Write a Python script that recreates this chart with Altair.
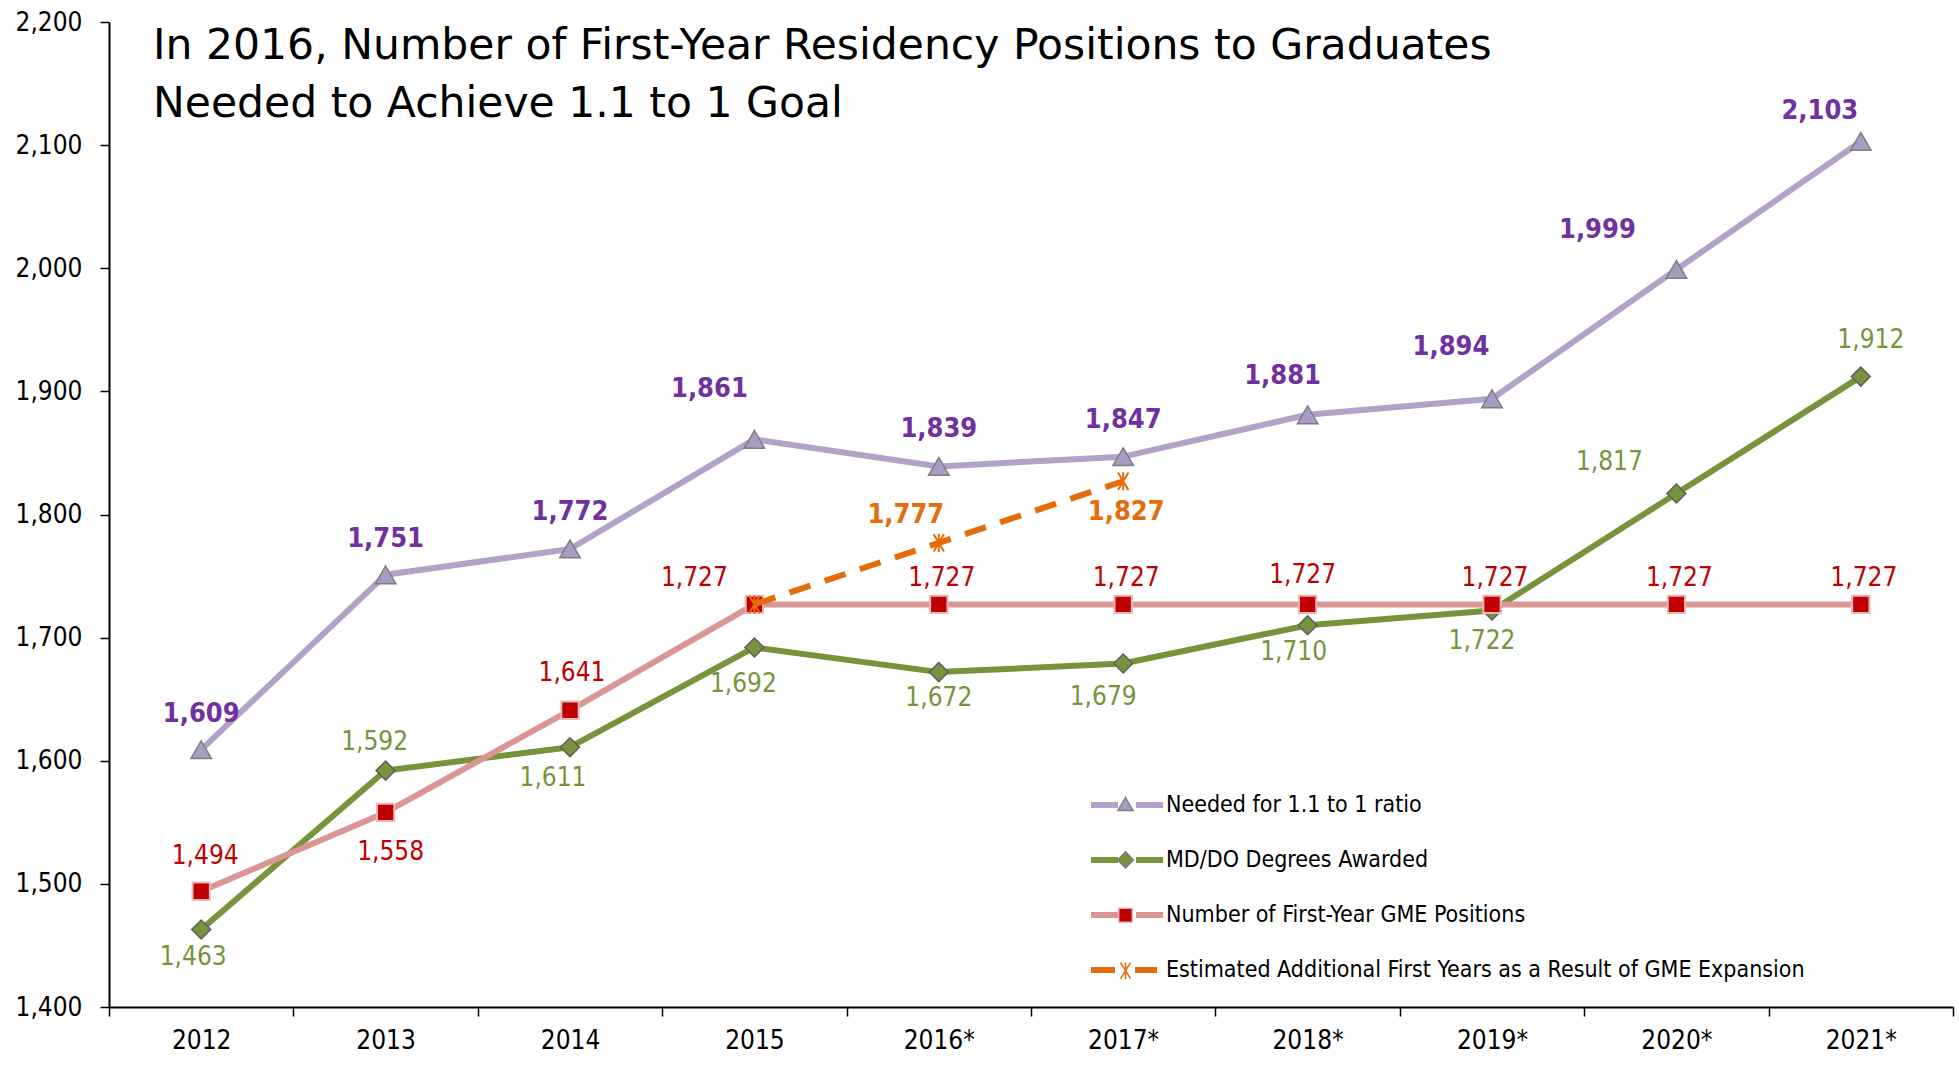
import altair as alt
import pandas as pd

# ---------------- data ----------------
years = ["2012", "2013", "2014", "2015", "2016*", "2017*", "2018*", "2019*", "2020*", "2021*"]
needed = [1609, 1751, 1772, 1861, 1839, 1847, 1881, 1894, 1999, 2103]
degrees = [1463, 1592, 1611, 1692, 1672, 1679, 1710, 1722, 1817, 1912]
positions = [1494, 1558, 1641, 1727, 1727, 1727, 1727, 1727, 1727, 1727]
est_years = ["2015", "2016*", "2017*"]
estimated = [1727, 1777, 1827]

S_NEED = "Needed for 1.1 to 1 ratio"
S_DEG = "MD/DO Degrees Awarded"
S_POS = "Number of First-Year GME Positions"
S_EST = "Estimated Additional First Years as a Result of GME Expansion"
series_names = [S_NEED, S_DEG, S_POS, S_EST]

title_lines = [
    "In 2016, Number of First-Year Residency Positions to Graduates",
    "Needed to Achieve 1.1 to 1 Goal",
]
y_ticks = [1400, 1500, 1600, 1700, 1800, 1900, 2000, 2100, 2200]

rows = []
for s, ys, vs in [(S_NEED, years, needed), (S_DEG, years, degrees),
                  (S_POS, years, positions), (S_EST, est_years, estimated)]:
    for yr, v in zip(ys, vs):
        rows.append({"year": yr, "series": s, "value": v})
df = pd.DataFrame(rows)

# ---------------- style ----------------
FONT = "DejaVu Sans Condensed, DejaVu Sans"
TITLE_FONT = "DejaVu Sans"
C_NEED_LINE, C_NEED_FILL, C_NEED_TXT = "#B3A2C7", "#A99CC4", "#7030A0"
C_DEG = "#77933C"
C_POS_LINE, C_POS_FILL, C_POS_TXT = "#DA9694", "#C00000", "#C00000"
C_EST = "#E46C0A"
GRAY = "#7F7F7F"
ASTERISK = "M-0.6,-1L0.6,1M0.6,-1L-0.6,1M0,-1.05V1.05"

base = alt.Chart(df)
X = alt.X("year:N", sort=years, title=None,
          scale=alt.Scale(type="band", paddingInner=0, paddingOuter=0),
          axis=alt.Axis(tickBand="extent", labelAngle=0, labelFontSize=26, labelFont=FONT,
                        labelColor="black", tickSize=9, tickWidth=1.5, tickColor="black",
                        domainColor="black", domainWidth=2, labelPadding=11, grid=False))
Y = alt.Y("value:Q", title=None,
          scale=alt.Scale(domain=[1400, 2200], nice=False, zero=False),
          axis=alt.Axis(values=y_ticks, format=",.0f", labelFontSize=26, labelFont=FONT,
                        labelColor="black", tickSize=9, tickWidth=1.5, tickColor="black",
                        domainColor="black", domainWidth=2, labelPadding=18, grid=False))


def sel(s):
    return base.transform_filter(alt.datum.series == s)


def line(s, color, dash=None):
    kw = dict(color=color, strokeWidth=6, strokeJoin="round")
    if dash:
        kw.update(strokeDash=dash, strokeCap="butt")
    else:
        kw.update(strokeCap="round")
    return sel(s).mark_line(**kw).encode(x=X, y=Y)


def points(s, shape, size, fill, stroke, sw):
    return sel(s).mark_point(shape=shape, size=size, filled=fill is not None,
                             fill=fill if fill else "transparent", stroke=stroke,
                             strokeWidth=sw, opacity=1).encode(x=X, y=Y)


def labels(s, color, bold, offsets):
    groups = {}
    for yr, off in offsets.items():
        groups.setdefault(off, []).append(yr)
    out = []
    for (dx, dy), yrs in groups.items():
        out.append(
            sel(s).transform_filter(alt.FieldOneOfPredicate(field="year", oneOf=yrs))
            .mark_text(dx=dx, dy=dy, align="center", baseline="middle", font=FONT,
                       fontSize=27 if bold else 26, fontWeight="bold" if bold else "normal",
                       color=color)
            .encode(x=X, y=Y, text=alt.Text("value:Q", format=","))
        )
    return out


need_off = {"2012": (0, -36), "2013": (0, -36), "2014": (0, -37), "2015": (-45, -50),
            "2016*": (0, -37), "2017*": (0, -37), "2018*": (-25, -39), "2019*": (-41, -52),
            "2020*": (-79, -39), "2021*": (-41, -30)}
deg_off = {"2012": (-8, 28), "2013": (-11, -29), "2014": (-17, 31), "2015": (-11, 37),
           "2016*": (0, 26), "2017*": (-20, 34), "2018*": (-14, 27), "2019*": (-10, 30),
           "2020*": (-67, -32), "2021*": (10, -37)}
pos_off = {"2012": (4, -35), "2013": (5, 40), "2014": (2, -37), "2015": (-60, -26),
           "2016*": (3, -26), "2017*": (3, -26), "2018*": (-5, -29), "2019*": (3, -26),
           "2020*": (3, -26), "2021*": (3, -26)}
est_off = {"2016*": (-33, -28), "2017*": (3, 31)}

# ---------------- legend (two overlaid legends: lines + markers) ----------------
LEG_X, LEG_Y = 1005, 770
leg_common = dict(orient="none", legendX=LEG_X, title=None,
                  labelFont=FONT, labelFontSize=23, labelColor="black", labelLimit=0,
                  labelOffset=26, symbolSize=400, symbolOpacity=1, padding=0)
SOLID = "M-3.6,0H-0.9M0.9,0H3.6"
DASHED = "M-3.6,0H-1.2M0.8,0H3.0"
legA_obj = alt.Legend(symbolStrokeWidth=6, symbolFillColor="transparent", rowPadding=30,
                      legendY=LEG_Y, **leg_common)
legA = (base.transform_filter("false")
        .mark_point(opacity=1, filled=False, strokeWidth=6)
        .encode(stroke=alt.Stroke("series:N", scale=alt.Scale(
                    domain=series_names, range=[C_NEED_LINE, C_DEG, C_POS_LINE, C_EST]),
                    legend=legA_obj),
                shape=alt.Shape("series:N", scale=alt.Scale(
                    domain=series_names, range=[SOLID, SOLID, SOLID, DASHED]),
                    legend=legA_obj)))

mkeys = [n + " " for n in series_names]
M_TRI = "M0,-0.7L0.75,0.6L-0.75,0.6Z"
M_DIA = "M0,-0.8L0.8,0L0,0.8L-0.8,0Z"
M_SQ = "M-0.68,-0.7H0.68V0.7H-0.68Z"
M_AST = "M-0.5,-0.8L0.5,0.8M0.5,-0.8L-0.5,0.8M0,-0.85V0.85"
legB_obj = alt.Legend(symbolStrokeWidth=1.5, labelExpr="''", rowPadding=31.4,
                      legendY=LEG_Y + 1, **leg_common)
legB = (base.transform_calculate(mkey="datum.series + ' '").transform_filter("false")
        .mark_point(opacity=1, filled=True, strokeWidth=1.5)
        .encode(fill=alt.Fill("mkey:N", scale=alt.Scale(
                    domain=mkeys, range=[C_NEED_FILL, C_DEG, C_POS_FILL, "transparent"]),
                    legend=legB_obj),
                stroke=alt.Stroke("mkey:N", scale=alt.Scale(
                    domain=mkeys, range=[GRAY, GRAY, "#E6B9B8", C_EST]),
                    legend=legB_obj),
                shape=alt.Shape("mkey:N", scale=alt.Scale(
                    domain=mkeys, range=[M_TRI, M_DIA, M_SQ, M_AST]),
                    legend=legB_obj)))

layers = [
    line(S_NEED, C_NEED_LINE),
    line(S_DEG, C_DEG),
    line(S_POS, C_POS_LINE),
    points(S_NEED, "triangle-up", 420, C_NEED_FILL, GRAY, 1.5),
    points(S_DEG, "diamond", 360, C_DEG, "#5F5F5F", 1.5),
    points(S_POS, "square", 300, C_POS_FILL, "#E6B9B8", 2),
    line(S_EST, C_EST, dash=[22, 15]),
    points(S_EST, ASTERISK, 300, None, C_EST, 2),
]
layers += labels(S_NEED, C_NEED_TXT, True, need_off)
layers += labels(S_DEG, C_DEG, False, deg_off)
layers += labels(S_POS, C_POS_TXT, False, pos_off)
layers += labels(S_EST, C_EST, True, est_off)
layers += [legA, legB]

chart = (
    alt.layer(*layers)
    .resolve_scale(stroke="independent", shape="independent", fill="independent")
    .properties(
        width=1844, height=985,
        autosize=alt.AutoSizeParams(type="none"),
        padding={"left": 109, "top": 22, "right": 6, "bottom": 59},
        title=alt.TitleParams(text=title_lines, anchor="start", frame="group", orient="top",
                              font=TITLE_FONT, fontSize=42.5, fontWeight="normal",
                              color="black", baseline="top", offset=0, dx=44, dy=116,
                              lineHeight=58),
        background="white",
    )
    .configure_view(stroke=None)
)

chart.save("out.html", embed_options={"renderer": "svg", "actions": False})
